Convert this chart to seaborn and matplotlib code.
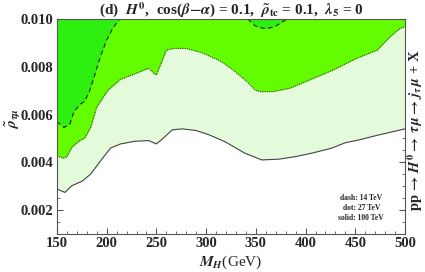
import matplotlib
matplotlib.use("Agg")
import matplotlib.pyplot as plt
import seaborn as sns
from matplotlib.ticker import MultipleLocator

# boundary curves (M_H in GeV, rho_tau_mu)
solid_m = [150, 158, 165, 175, 184, 194, 204, 214, 228, 242, 250, 255, 266, 276, 290, 303,
           319, 339, 356, 373, 390, 406, 426, 440, 453, 473, 500]
solid_r = [0.00288, 0.00274, 0.00302, 0.00320, 0.00351, 0.00407, 0.00460, 0.00477, 0.00488,
           0.00491, 0.00477, 0.00494, 0.00536, 0.00540, 0.00533, 0.00515, 0.00486, 0.00438,
           0.00410, 0.00413, 0.00424, 0.00438, 0.00459, 0.00482, 0.00493, 0.00514, 0.00540]

dot_m = [150, 156, 160, 165, 173, 178, 184, 190, 201, 214, 228, 242, 248, 250, 254, 260, 267,
         280, 295, 314, 327, 341, 349, 354, 367, 384, 404, 428, 451, 472, 485, 495, 500]
dot_r = [0.00428, 0.00417, 0.00424, 0.00463, 0.00491, 0.00502, 0.00547, 0.00631, 0.00701,
         0.00748, 0.00770, 0.00794, 0.00770, 0.00766, 0.00807, 0.00870, 0.00877, 0.00877,
         0.00860, 0.00825, 0.00787, 0.00738, 0.00703, 0.00696, 0.00696, 0.00710, 0.00745,
         0.00787, 0.00835, 0.00870, 0.00926, 0.00961, 0.00968]

dash1_m = [150, 157, 163, 167, 173, 178, 183, 188, 193, 200, 206, 213]
dash1_r = [0.00570, 0.00546, 0.00560, 0.00612, 0.00642, 0.00656, 0.00702, 0.00766, 0.00835,
           0.00912, 0.00961, 0.01000]
dash2_m = [342, 348, 353, 358, 363, 369, 377, 381]
dash2_r = [0.01000, 0.00975, 0.00965, 0.00961, 0.00962, 0.00968, 0.00989, 0.01000]

notes = ["dash: 14 TeV", "dot: 27 TeV", "solid: 100 TeV"]
notes_y = [0.00251, 0.00209, 0.00167]

sns.set_style("ticks")
plt.rcParams["font.family"] = ["Liberation Serif", "DejaVu Serif"]
plt.rcParams["mathtext.fontset"] = "stix"
plt.rcParams["font.weight"] = "bold"

fig = plt.figure(figsize=(4.25, 2.72), dpi=100)
ax = fig.add_axes([0.134, 0.14, 0.819, 0.79])

top = 0.010
ax.fill_between(solid_m, solid_r, top, color="#e4fbdb", lw=0)
ax.fill_between(dot_m, dot_r, top, color="#64fd00", lw=0)
ax.fill_between(dash1_m, dash1_r, top, color="#2ef010", lw=0)
ax.fill_between(dash2_m, dash2_r, top, color="#2ef010", lw=0)

sns.lineplot(x=solid_m, y=solid_r, ax=ax, color="#444444", lw=0.8, sort=False)
sns.lineplot(x=dot_m, y=dot_r, ax=ax, color="#444444", lw=0.8, linestyle=(0, (1, 1)), sort=False)
sns.lineplot(x=dash1_m, y=dash1_r, ax=ax, color="#222222", lw=0.8, linestyle=(0, (4, 3)), sort=False)
sns.lineplot(x=dash2_m, y=dash2_r, ax=ax, color="#222222", lw=0.8, linestyle=(0, (4, 3)), sort=False)

ax.set_xlim(150, 500)
ax.set_ylim(0.001, 0.010)
ax.xaxis.set_major_locator(MultipleLocator(50))
ax.xaxis.set_minor_locator(MultipleLocator(10))
ax.yaxis.set_major_locator(MultipleLocator(0.002))
ax.yaxis.set_minor_locator(MultipleLocator(0.0005))
ax.yaxis.set_major_formatter(matplotlib.ticker.FormatStrFormatter("%.3f"))
ax.tick_params(which="both", direction="in", top=True, right=True, labelsize=10.5, color="#555555")
ax.tick_params(which="major", length=4, pad=2.5)
ax.tick_params(which="minor", length=2)
for lab in ax.get_xticklabels() + ax.get_yticklabels():
    lab.set_fontweight("bold")
for s in ax.spines.values():
    s.set_color("#555555")
    s.set_linewidth(0.8)

ax.set_xlabel(r"$M_H$(GeV)", fontsize=11, labelpad=2)
ax.set_ylabel("")
fig.text(0.032, 0.565, r"$\tilde{\rho}_{\tau\mu}$", rotation=90, ha="center", va="center", fontsize=11)
ax.set_title(r"(d)  $H^0$,  cos($\beta$$-$$\alpha$) = 0.1,  $\tilde{\rho}_{\rm tc}$ = 0.1,  $\lambda_5$ = 0",
             fontsize=11, fontweight="bold", pad=3)

for t, y in zip(notes, notes_y):
    ax.text(456, y, t, fontsize=5.5, ha="center", va="center")

fig.text(0.977, 0.52, r"pp$\,\rightarrow\,H^0\rightarrow\,\tau\,\mu\rightarrow\,j_\tau\,\mu$ + X",
         rotation=90, ha="center", va="center", fontsize=10.5, fontweight="bold")

fig.savefig("out.png", dpi=100)
